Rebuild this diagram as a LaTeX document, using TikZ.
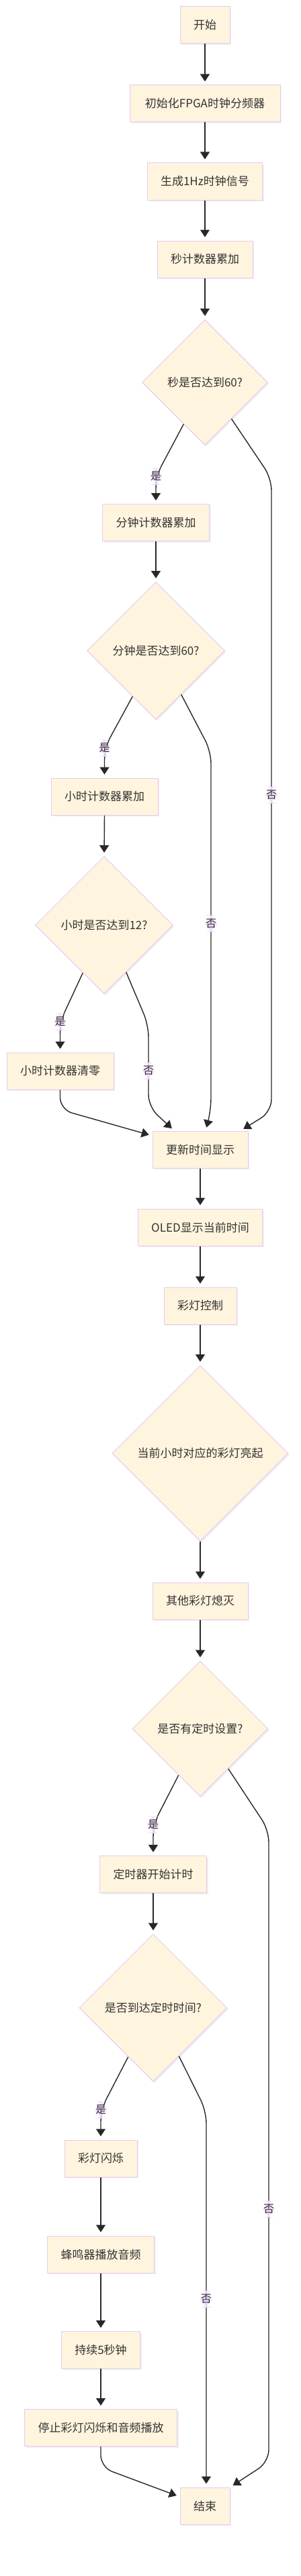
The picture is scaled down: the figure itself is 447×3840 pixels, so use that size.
\documentclass[tikz,border=0pt]{standalone}
\usepackage{fontspec}
\setmainfont{Noto Sans CJK SC}
\usetikzlibrary{arrows.meta, shapes.geometric, shadows}

\definecolor{boxfill}{RGB}{255,244,222}
\definecolor{boxline}{RGB}{228,204,240}
\definecolor{lblfill}{RGB}{240,220,250}
\definecolor{ink}{RGB}{51,51,51}
\definecolor{linec}{RGB}{40,40,40}

\begin{document}
\begin{tikzpicture}[
  x=1pt, y=1pt,
  comp/.style={rectangle, draw=boxline, fill=boxfill, line width=1pt,
               minimum height=55pt, inner xsep=20pt, text=ink,
               font=\fontsize{17}{20}\selectfont,
               drop shadow={shadow xshift=2pt, shadow yshift=-2pt, opacity=0.12}},
  check/.style={diamond, aspect=1, draw=boxline, fill=boxfill, line width=1pt,
                inner sep=0pt, text=ink, font=\fontsize{17}{20}\selectfont,
                drop shadow={shadow xshift=2pt, shadow yshift=-2pt, opacity=0.12}},
  lbl/.style={rectangle, fill=lblfill, inner sep=0pt, minimum width=17pt,
              minimum height=25pt, text=ink, font=\fontsize{16}{19}\selectfont},
  arrow/.style={-{Triangle[length=11pt, width=14pt]}, line width=1.4pt,
                draw=linec, shorten >=5pt, rounded corners=18pt},
]

\path[use as bounding box, fill=white] (0,0) rectangle (447,-3840);

% ---- 计时部分 ----
\node[comp] (start) at (305,-37.5) {开始};
\node[comp, minimum width=224pt] (init) at (305,-154.5) {初始化FPGA时钟分频器};
\node[comp] (clk) at (305,-270.5) {生成1Hz时钟信号};
\node[comp] (sec-add) at (305,-386.5) {秒计数器累加};
\node[check, minimum size=187pt] (sec-chk) at (305,-570) {秒是否达到60?};
\node[comp] (min-add) at (232,-779) {分钟计数器累加};
\node[check, minimum size=205pt] (min-chk) at (232,-970) {分钟是否达到60?};
\node[comp] (hr-add) at (155.5,-1187.5) {小时计数器累加};
\node[check, minimum size=205pt] (hr-chk) at (155,-1379) {小时是否达到12?};
\node[comp] (hr-clr) at (89.5,-1596.5) {小时计数器清零};

% ---- 显示与彩灯 ----
\node[comp] (update) at (298,-1713.5) {更新时间显示};
\node[comp] (oled) at (298,-1829.5) {OLED显示当前时间};
\node[comp] (lamp) at (298,-1946.5) {彩灯控制};
\node[check, minimum size=262pt] (lamp-on) at (298,-2166.5) {当前小时对应的彩灯亮起};
\node[comp] (lamp-off) at (298,-2386.5) {其他彩灯熄灭};

% ---- 定时闹钟 ----
\node[check, minimum size=202pt] (tmr-chk) at (298,-2577) {是否有定时设置?};
\node[comp] (tmr-go) at (228,-2794) {定时器开始计时};
\node[check, minimum size=220pt] (tmr-hit) at (228,-2993) {是否到达定时时间?};
\node[comp] (flash) at (150,-3217.5) {彩灯闪烁};
\node[comp] (buzz) at (150,-3360.5) {蜂鸣器播放音频};
\node[comp] (hold) at (150,-3503) {持续5秒钟};
\node[comp] (stop) at (150,-3619) {停止彩灯闪烁和音频播放};
\node[comp] (finish) at (305,-3735.5) {结束};

% ---- 连线 ----
\draw[arrow] (start.south) -- (init.north);
\draw[arrow] (init.south) -- (clk.north);
\draw[arrow] (clk.south) -- (sec-add.north);
\draw[arrow] (sec-add.south) -- (sec-chk.north);
\draw[arrow] (sec-chk.243) -- (min-add.north |- 0,-710) node[lbl] (sec-yes) {是}
  -- (min-add.north);
\draw[arrow] (sec-chk.306) -- (404,-713) -- node[lbl] (sec-no) {否} (404,-1657)
  -- (update.25);

\draw[arrow] (min-add.south) -- (min-chk.north);
\draw[arrow] (min-chk.243) -- (hr-add.north |- 0,-1115) node[lbl] (min-yes) {是}
  -- (hr-add.north);
\draw[arrow] (min-chk.300) -- (314,-1120) -- node[lbl, pos=0.48] (min-no) {否} (314,-1655)
  -- (update.74);

\draw[arrow] (hr-add.south) -- (hr-chk.north);
\draw[arrow] (hr-chk.246) -- (hr-clr.north |- 0,-1523) node[lbl] (hr-yes) {是}
  -- (hr-clr.north);
\draw[arrow] (hr-chk.295) -- (221,-1528) -- node[lbl, pos=0.56] (hr-no) {否} (221,-1650)
  -- (update.144);
\draw[arrow] (hr-clr.south) -- (hr-clr.south |- 0,-1654) -- (update.164);

\draw[arrow] (update.south) -- (oled.north);
\draw[arrow] (oled.south) -- (lamp.north);
\draw[arrow] (lamp.south) -- (lamp-on.north);
\draw[arrow] (lamp-on.south) -- (lamp-off.north);
\draw[arrow] (lamp-off.south) -- (tmr-chk.north);

\draw[arrow] (tmr-chk.245) -- (tmr-go.north |- 0,-2720) node[lbl] (tmr-yes) {是}
  -- (tmr-go.north);
\draw[arrow] (tmr-chk.305) -- (400,-2728) -- node[lbl, pos=0.6] (tmr-no) {否} (400,-3670)
  -- (finish.north east);

\draw[arrow] (tmr-go.south) -- (tmr-hit.north);
\draw[arrow] (tmr-hit.243) -- (flash.north |- 0,-3145) node[lbl] (hit-yes) {是}
  -- (flash.north);
\draw[arrow] (tmr-hit.298) -- (307,-3147) -- node[lbl] (hit-no) {否} (finish.86);

\draw[arrow] (flash.south) -- (buzz.north);
\draw[arrow] (buzz.south) -- (hold.north);
\draw[arrow] (hold.south) -- (stop.north);
\draw[arrow] (stop.south) -- (stop.south |- 0,-3678) -- (finish.160);

\end{tikzpicture}
\end{document}
